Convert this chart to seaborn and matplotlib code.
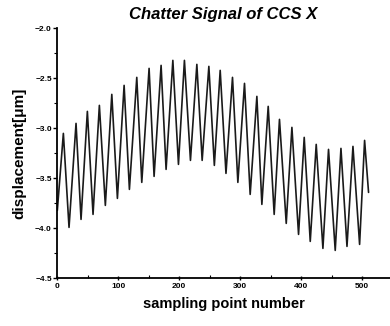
import pandas as pd
import matplotlib
matplotlib.use("Agg")
import matplotlib.pyplot as plt
import seaborn as sns
from matplotlib.ticker import MultipleLocator

# --- extrema (sampling point, displacement in um) ---
start_point = [0.0, -3.82]
end_point = [510.8, -3.64]

peak_x = [9.9, 30.7, 49.3, 69.0, 89.4, 109.6, 130.4, 150.6, 170.3, 189.6,
          208.6, 229.0, 248.7, 267.3, 287.5, 307.2, 327.5, 346.1, 364.6, 385.0,
          405.2, 424.9, 445.1, 465.5, 485.2, 504.3]
peak_y = [-3.05, -2.95, -2.83, -2.77, -2.66, -2.57, -2.49, -2.40, -2.37, -2.32,
          -2.32, -2.36, -2.38, -2.42, -2.49, -2.55, -2.68, -2.78, -2.91, -2.99,
          -3.09, -3.16, -3.21, -3.20, -3.18, -3.12]

trough_x = [19.2, 38.9, 58.6, 78.8, 98.6, 118.3, 138.6, 158.8, 178.5, 198.8,
            218.5, 237.7, 257.7, 276.8, 296.3, 316.5, 335.7, 355.9, 375.7, 395.9,
            415.1, 435.9, 456.1, 475.4, 496.1]
trough_y = [-3.99, -3.91, -3.86, -3.77, -3.70, -3.61, -3.54, -3.48, -3.41, -3.36,
            -3.32, -3.32, -3.37, -3.45, -3.54, -3.66, -3.76, -3.86, -3.95, -4.06,
            -4.13, -4.20, -4.22, -4.18, -4.16]

xs = [start_point[0]] + peak_x + trough_x + [end_point[0]]
ys = [start_point[1]] + peak_y + trough_y + [end_point[1]]
df = pd.DataFrame({"sample": xs, "disp": ys}).sort_values("sample")

sns.set_style("ticks")
plt.rcParams["font.family"] = ["Liberation Sans", "DejaVu Sans"]
for key in ["text.color", "axes.labelcolor", "xtick.color", "ytick.color"]:
    plt.rcParams[key] = "black"

fig = plt.figure(figsize=(3.9, 3.26), dpi=100)
ax = fig.add_axes([0.147, 0.146, 0.853, 0.767])

sns.lineplot(data=df, x="sample", y="disp", ax=ax, sort=True,
             color="#1a1a1a", linewidth=1.2, estimator=None)

ax.set_xlim(0, 546)
ax.set_ylim(-4.5, -2.0)
ax.xaxis.set_major_locator(MultipleLocator(100))
ax.xaxis.set_minor_locator(MultipleLocator(50))
ax.yaxis.set_major_locator(MultipleLocator(0.5))
ax.yaxis.set_minor_locator(MultipleLocator(0.25))

sns.despine(ax=ax)
for s in ["left", "bottom"]:
    ax.spines[s].set_linewidth(1.3)
    ax.spines[s].set_color("black")

ax.tick_params(axis="y", which="major", direction="out", length=3, width=1,
               labelsize=6, pad=1)
ax.tick_params(axis="y", which="minor", direction="out", length=2, width=0.8)
ax.tick_params(axis="x", which="major", direction="inout", length=3, width=1,
               labelsize=6, pad=2)
ax.tick_params(axis="x", which="minor", direction="in", length=2, width=0.8)
for lab in ax.get_xticklabels() + ax.get_yticklabels():
    lab.set_fontweight("bold")

ax.set_title("Chatter Signal of CCS X", fontsize=12, fontweight="bold",
             fontstyle="italic", pad=7)
ax.set_xlabel("sampling point number", fontsize=10.5, fontweight="bold", labelpad=5)
ax.set_ylabel("displacement[\u03bcm]", fontsize=11, fontweight="bold", labelpad=6)

fig.savefig("out.png", dpi=100)
